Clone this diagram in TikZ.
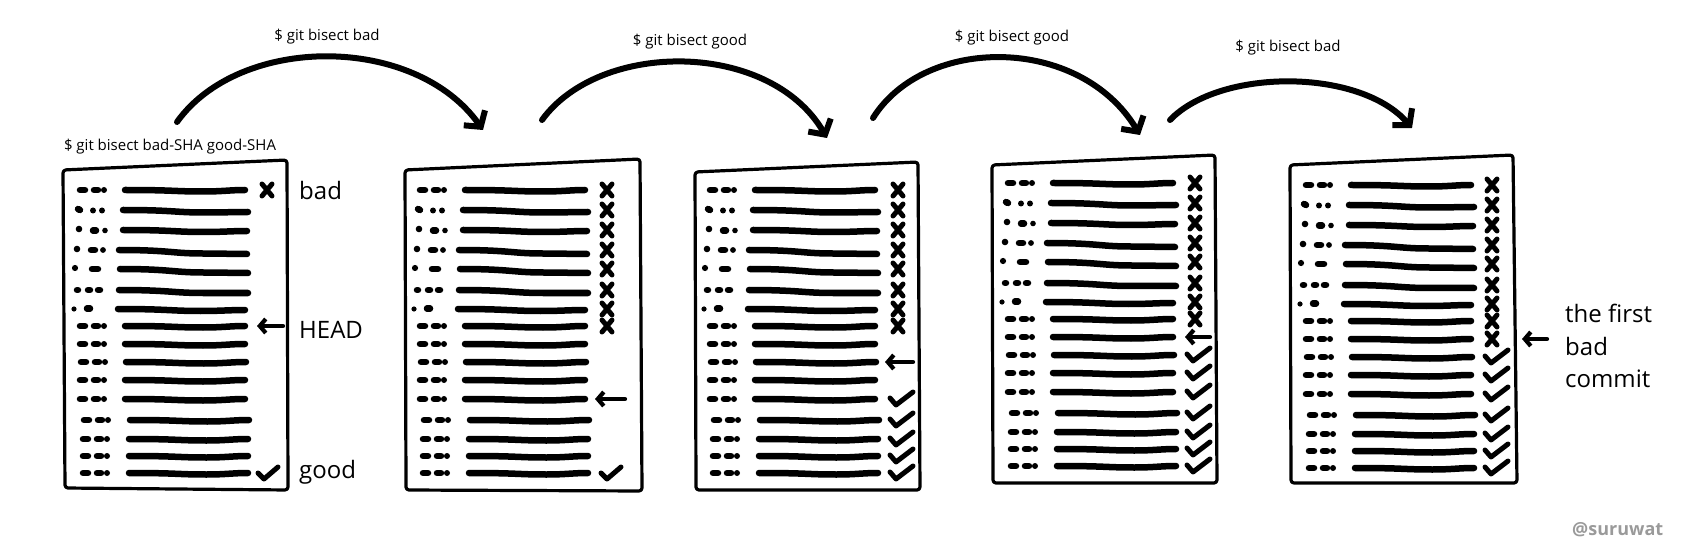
\documentclass[tikz,border=0pt]{standalone}
\usepackage{fontspec}
\setmainfont{Open Sans}
\usetikzlibrary{arrows.meta}
\definecolor{sig}{HTML}{9A9A9A}
\newcommand\dotpat[3]{%
 \begin{scope}[shift={(#2,#3)}]
 \ifcase#1\relax
   \draw[hash] (3,0)--(8,0) (17,0)--(21,0); \fill (27,0) circle (3pt);
 \or
   \draw[hash] (1,-1)--(3,0); \fill (16,0.5) circle (3pt) (25,0.5) circle (3pt);
 \or
   \fill (2,-1) circle (3.3pt); \draw[hash] (16,0.5)--(19,0.5); \fill (28,0.5) circle (2.8pt);
 \or
   \fill (0,-1) circle (3.3pt); \draw[hash] (14,0)--(18,0); \fill (26,0) circle (2.9pt);
 \or
   \fill (-2,-1) circle (3.1pt); \draw[hash] (15,0)--(21,0);
 \or
   \draw[hash] (0,0)--(1,0) (11,0)--(13,0) (21,0)--(23,0);
 \or
   \fill (-3,0) circle (2.6pt); \draw[hash] (10,-0.5)--(13,-0.5);
 \fi
 \end{scope}}
\newcommand\commits[2]{%
 \foreach \i/\r/\t/\o/\ls/\le/\ey in {
  0/0/0/0/48/168/0, 1/20/1/0/46/171/2, 2/40/2/0/46/170/1, 3/60/3/0/42/170/4,
  4/79/4/0/43/171/4, 5/100/5/0/42/171/3, 6/119/6/0/41/168/1, 7/136/0/0/48/168/0,
  8/154/0/0/48/168/0, 9/172/0/1/49/169/0, 10/190/0/0/48/168/0, 11/209/0/0/48/168/0,
  12/230/0/4/53/172/0, 13/249/0/3/52/171/0, 14/266/0/3/52/171/0, 15/283/0/3/52/171/0}{%
  \pgfmathsetmacro\yy{#2+\r}%
  \pgfmathsetmacro\xx{#1+\o}%
  \dotpat{\t}{\xx}{\yy}%
  \draw[bar] ({#1+\ls},\yy) .. controls +(50,0) and +(-30,0) .. ({#1+\ls+0.65*(\le-\ls)},{\yy+1.5+0.5*\ey}) .. controls +(20,0) and +(-15,0) .. ({#1+\le},{\yy+\ey});
 }}
\newcommand\xm[2]{\draw[mk] ({#1-5},{#2-6}) -- ({#1+5},{#2+6}) ({#1+5},{#2-6}) -- ({#1-5},{#2+6});}
\newcommand\ck[2]{\draw[mk] ({#1-9},{#2}) -- ({#1-3},{#2+6}) -- ({#1+11},{#2-6});}
\newcommand\ckb[2]{\draw[mk] ({#1-10},{#2-1}) -- ({#1-4},{#2+6}) -- ({#1+13},{#2-7});}
\begin{document}
\begin{tikzpicture}[x=1pt,y=-1pt,line cap=round,line join=round,
  frame/.style={line width=3.2pt, rounded corners=3pt},
  hash/.style={line width=6.5pt},
  bar/.style={line width=6.5pt},
  mk/.style={line width=5pt},
  ptr/.style={line width=4.2pt,-{Straight Barb[length=6pt,width=14pt]}},
  hop/.style={line width=6pt,-{Straight Barb[length=11pt,width=26pt]}},
  cmd/.style={font=\fontsize{15}{17}\selectfont, inner sep=0pt},
  lbl/.style={font=\fontsize{24}{30}\selectfont, anchor=base west, inner sep=0pt}]
\fill[white] (0,0) rectangle (1686,545);
\useasboundingbox (0,0) rectangle (1686,545);

% panel frames
\draw[frame] (63,170) -- (287,160) -- (288,490) -- (65,488) -- cycle;
\draw[frame] (405,170) -- (640,159) -- (642,491) -- (406,490) -- cycle;
\draw[frame] (695,172) -- (918,162) -- (920,490) -- (696,490) -- cycle;
\draw[frame] (992,165) -- (1215,155) -- (1217,483) -- (993,483) -- cycle;
\draw[frame] (1290,165) -- (1513,155) -- (1517,483) -- (1291,483) -- cycle;

% commit rows
\commits{77}{190}
\commits{417}{190}
\commits{707}{190}
\commits{1005}{183}
\commits{1303}{185}

% panel 1 marks
\xm{267}{190}
\ck{267}{473}
\coordinate (h1t) at (283,326); \coordinate (h1h) at (257,326);
\draw[ptr] (h1t) -- (h1h);
% panel 2 marks
\foreach \r in {0,20,40,60,79,100,119,136} {\xm{607}{190+\r}}
\coordinate (h2t) at (625,399); \coordinate (h2h) at (595,399);
\draw[ptr] (h2t) -- (h2h);
\ck{610}{473}
% panel 3 marks
\foreach \r in {0,20,40,60,79,100,119,136} {\xm{898}{190+\r}}
\coordinate (h3t) at (913,362); \coordinate (h3h) at (885,362);
\draw[ptr] (h3t) -- (h3h);
\foreach \r in {209,230,249,266,283} {\ckb{900}{190+\r}}
% panel 4 marks
\foreach \r in {0,20,40,60,79,100,119,136} {\xm{1195}{183+\r}}
\coordinate (h4t) at (1210,337); \coordinate (h4h) at (1185,337);
\draw[ptr] (h4t) -- (h4h);
\foreach \r in {172,190,209,230,249,266,283} {\ckb{1197}{183+\r}}
% panel 5 marks
\foreach \r in {0,20,40,60,79,100,119,136,154} {\xm{1492}{185+\r}}
\foreach \r in {172,190,209,230,249,266,283} {\ckb{1495}{185+\r}}
\coordinate (h5t) at (1547,339); \coordinate (h5h) at (1522,339);
\draw[ptr] (h5t) -- (h5h);

% hops
\coordinate (a1s) at (177,122); \coordinate (a1e) at (483,130);
\coordinate (a2s) at (542,120); \coordinate (a2e) at (827,138);
\coordinate (a3s) at (873,118); \coordinate (a3e) at (1140,135);
\coordinate (a4s) at (1170,120); \coordinate (a4e) at (1412,128);
\draw[hop] (a1s) .. controls (240,34) and (415,34) .. (a1e);
\draw[hop] (a2s) .. controls (600,40) and (770,40) .. (a2e);
\draw[hop] (a3s) .. controls (925,35) and (1080,35) .. (a3e);
\draw[hop] (a4s) .. controls (1220,68) and (1360,68) .. (a4e);

% commands
\node[cmd] (c0) at (170,147) {\$ git bisect bad-SHA good-SHA};
\node[cmd] (c1) at (327,37) {\$ git bisect bad};
\node[cmd] (c2) at (690,42) {\$ git bisect good};
\node[cmd] (c3) at (1012,38) {\$ git bisect good};
\node[cmd] (c4) at (1288,48) {\$ git bisect bad};

% labels
\node[lbl] (bad) at (299,200) {bad};
\node[lbl] (head) at (299,338) {HEAD};
\node[lbl] (good) at (299,478) {good};
\node[lbl] (fb1) at (1565,323) {the first};
\node[lbl] (fb2) at (1565,355) {bad};
\node[lbl] (fb3) at (1565,387) {commit};
\node[anchor=base west, inner sep=0pt, font=\fontsize{18}{20}\selectfont\bfseries, text=sig] (sg) at (1572,535) {@suruwat};
\end{tikzpicture}
\end{document}
